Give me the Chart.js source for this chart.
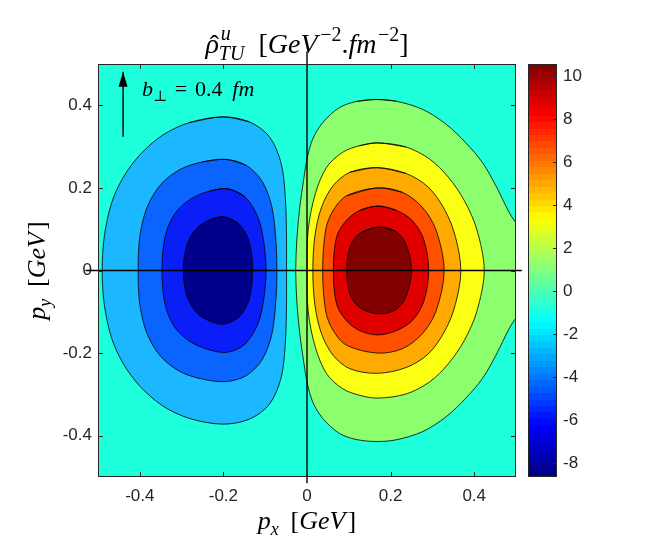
<!DOCTYPE html>
<html>
<head>
<meta charset="utf-8">
<script src="https://cdn.jsdelivr.net/npm/chart.js@4.4.1/dist/chart.umd.min.js"></script>
<style>
  html, body { margin: 0; padding: 0; background: #fff; }
  #wrap { position: relative; width: 656px; height: 547px; }
  #main { position: absolute; left: 0; top: 0; }
  #bar { position: absolute; left: 528px; top: 0; }
</style>
</head>
<body>
<div id="wrap">
  <canvas id="main" width="656" height="547" style="width:656px;height:547px"></canvas>
  <canvas id="bar" width="128" height="547" style="width:128px;height:547px"></canvas>
</div>
<script>
// ---------------------------- data ----------------------------

var xTicks = [-0.4, -0.2, 0, 0.2, 0.4];
var yTicks = [-0.4, -0.2, 0, 0.2, 0.4];
var cbTicks = [-8, -6, -4, -2, 0, 2, 4, 6, 8, 10];
var cbRange = [-8.65, 10.56];

// contour lines, [px, py] in GeV, each one a closed loop
var loopNeg2 = [[-0.202, 0.372], [-0.138, 0.36], [-0.09, 0.324], [-0.062, 0.26], [-0.052, 0.179], [-0.049, 0.082], [-0.049, 0],
  [-0.049, -0.082], [-0.052, -0.179], [-0.062, -0.26], [-0.09, -0.324], [-0.138, -0.36], [-0.202, -0.372], [-0.282, -0.358],
  [-0.345, -0.328], [-0.399, -0.281], [-0.44, -0.225], [-0.468, -0.162], [-0.485, -0.082], [-0.49, 0], [-0.485, 0.082],
  [-0.468, 0.162], [-0.44, 0.225], [-0.399, 0.281], [-0.345, 0.328], [-0.282, 0.358], [-0.202, 0.372]];
var loopNeg4 = [[-0.194, 0.269], [-0.146, 0.255], [-0.108, 0.217], [-0.084, 0.154], [-0.074, 0.066], [-0.072, 0],
  [-0.074, -0.066], [-0.084, -0.154], [-0.108, -0.217], [-0.146, -0.255], [-0.194, -0.269], [-0.25, -0.263], [-0.303, -0.245],
  [-0.35, -0.208], [-0.383, -0.152], [-0.4, -0.082], [-0.404, 0], [-0.4, 0.082], [-0.383, 0.152], [-0.35, 0.208],
  [-0.303, 0.245], [-0.25, 0.263], [-0.194, 0.269]];
var loopNeg6 = [[-0.19, 0.198], [-0.148, 0.178], [-0.117, 0.128], [-0.103, 0.066], [-0.098, 0], [-0.103, -0.066], [-0.117, -0.128],
  [-0.148, -0.178], [-0.19, -0.198], [-0.234, -0.192], [-0.28, -0.172], [-0.318, -0.135], [-0.34, -0.08], [-0.347, 0],
  [-0.34, 0.08], [-0.318, 0.135], [-0.28, 0.172], [-0.234, 0.192], [-0.19, 0.198]];
var loopNeg8 = [[-0.2, 0.13], [-0.163, 0.113], [-0.139, 0.072], [-0.13, 0], [-0.139, -0.072], [-0.163, -0.113], [-0.2, -0.13],
  [-0.232, -0.123], [-0.264, -0.102], [-0.287, -0.063], [-0.296, 0], [-0.287, 0.063], [-0.264, 0.102], [-0.232, 0.123], [-0.2, 0.13]];

var loopPos0 = [[0.165, 0.414], [0.213, 0.41], [0.277, 0.39], [0.333, 0.354], [0.38, 0.309], [0.42, 0.261], [0.452, 0.205],
  [0.484, 0.14], [0.53, 0.06], [0.53, -0.06], [0.484, -0.14], [0.452, -0.205], [0.42, -0.261], [0.38, -0.309],
  [0.333, -0.354], [0.277, -0.39], [0.213, -0.41], [0.165, -0.414], [0.117, -0.409], [0.077, -0.394], [0.0375, -0.358],
  [0.0136, -0.318], [0, -0.27], [-0.008, -0.22], [-0.017, -0.156], [-0.024, -0.08], [-0.027, 0], [-0.024, 0.08],
  [-0.017, 0.156], [-0.008, 0.22], [0, 0.27], [0.0136, 0.318], [0.0375, 0.358], [0.077, 0.394], [0.117, 0.409], [0.165, 0.414]];
var loopPos2 = [[0.169, 0.309], [0.237, 0.299], [0.293, 0.27], [0.338, 0.226], [0.376, 0.17], [0.406, 0.1], [0.424, 0],
  [0.406, -0.1], [0.376, -0.17], [0.338, -0.226], [0.293, -0.27], [0.237, -0.299], [0.169, -0.309], [0.125, -0.302],
  [0.085, -0.286], [0.047, -0.25], [0.02, -0.186], [0.003, -0.1], [0, 0], [0.003, 0.1], [0.02, 0.186], [0.047, 0.25],
  [0.085, 0.286], [0.125, 0.302], [0.169, 0.309]];
var loopPos4 = [[0.168, 0.249], [0.237, 0.235], [0.29, 0.202], [0.33, 0.146], [0.355, 0.082], [0.368, 0], [0.355, -0.082],
  [0.33, -0.146], [0.29, -0.202], [0.237, -0.235], [0.168, -0.249], [0.103, -0.238], [0.063, -0.206], [0.035, -0.154],
  [0.019, -0.084], [0.014, 0], [0.019, 0.084], [0.035, 0.154], [0.063, 0.206], [0.103, 0.238], [0.168, 0.249]];
var loopPos6 = [[0.17, 0.2], [0.229, 0.189], [0.275, 0.154], [0.308, 0.1], [0.328, 0], [0.308, -0.1], [0.275, -0.154],
  [0.229, -0.189], [0.17, -0.2], [0.095, -0.181], [0.063, -0.146], [0.045, -0.1], [0.0375, 0], [0.045, 0.1], [0.063, 0.146],
  [0.095, 0.181], [0.17, 0.2]];
var loopPos8 = [[0.17, 0.156], [0.213, 0.146], [0.251, 0.122], [0.279, 0.076], [0.291, 0], [0.279, -0.076], [0.251, -0.122],
  [0.213, -0.146], [0.17, -0.156], [0.127, -0.146], [0.095, -0.122], [0.071, -0.082], [0.063, 0], [0.071, 0.082],
  [0.095, 0.122], [0.127, 0.146], [0.17, 0.156]];
var loopPos10 = [[0.172, 0.105], [0.212, 0.095], [0.236, 0.066], [0.25, 0], [0.236, -0.066], [0.212, -0.095], [0.172, -0.105],
  [0.128, -0.091], [0.103, -0.058], [0.095, 0], [0.103, 0.058], [0.128, 0.091], [0.172, 0.105]];

// the two black lines through the origin and the b arrow
var lineHoriz = [[-0.53, 0], [0.514, 0]];
var lineVert = [[0, -0.515], [0, 0.53]];
var arrowPts = [[-0.44, 0.324], [-0.44, 0.481]];

// ---------------------------- styles ----------------------------

var bgColor = '#1EFFDC';
var contourList = [
  { pts: loopNeg2, color: '#1CB8FF', order: 4 },
  { pts: loopNeg4, color: '#0A64FF', order: 3 },
  { pts: loopNeg6, color: '#0A1EF8', order: 2 },
  { pts: loopNeg8, color: '#00008C', order: 1 },
  { pts: loopPos0, color: '#8CFF6E', order: 6 },
  { pts: loopPos2, color: '#FAFF14', order: 5 },
  { pts: loopPos4, color: '#FFAA00', order: 4 },
  { pts: loopPos6, color: '#FF5000', order: 3 },
  { pts: loopPos8, color: '#E10000', order: 2 },
  { pts: loopPos10, color: '#820000', order: 1 }
];
var inkColor = '#262626';
var mathFont = '"Liberation Serif", "DejaVu Serif", serif';
Chart.defaults.font.family = '"Liberation Sans", Arial, Helvetica, sans-serif';
Chart.defaults.font.size = 17;
Chart.defaults.color = inkColor;

function toXY(arr) {
  return arr.map(function (p) { return { x: p[0], y: p[1] }; });
}

// a closed loop gets one point of overlap on each end so the spline has no corner where it starts
function loopXY(arr) {
  var n = arr.length;
  return toXY([arr[n - 2]].concat(arr, [arr[1]]));
}

var sets = contourList.map(function (c) {
  return {
    data: loopXY(c.pts),
    fill: 'shape',
    backgroundColor: c.color,
    borderColor: '#000',
    borderWidth: 0.8,
    pointRadius: 0,
    tension: 0.32,
    order: c.order + 1
  };
});
[lineHoriz, lineVert, arrowPts].forEach(function (l) {
  sets.push({ data: toXY(l), fill: false, borderColor: '#000', borderWidth: 1.4, pointRadius: 0, tension: 0, clip: false, order: 0 });
});

// ---------------------------- math text ----------------------------

function runText(c, run, F, x, y, draw) {
  run.forEach(function (p) {
    if (p.gap) { x += p.gap * F; return; }
    if (p.top !== undefined) {
      c.font = 'italic ' + Math.round(F * 0.7) + 'px ' + mathFont;
      var w1 = c.measureText(p.top).width, w2 = c.measureText(p.bot).width;
      if (draw) {
        c.fillText(p.top, x + 2, y - 0.45 * F);
        c.fillText(p.bot, x, y + 0.25 * F);
      }
      x += Math.max(w1 + 2, w2);
      return;
    }
    var small = p.sup || p.sub;
    c.font = (p.i ? 'italic ' : '') + Math.round(F * (small ? 0.7 : 1)) + 'px ' + mathFont;
    var w = c.measureText(p.t).width;
    var dy = p.sup ? -0.42 * F : (p.sub ? 0.22 * F : 0);
    if (draw) {
      c.fillText(p.t, x, y + dy);
      if (p.hat) {
        c.font = Math.round(F) + 'px ' + mathFont;
        c.textAlign = 'center';
        c.fillText('\u02C6', x + w / 2 + 0.08 * F, y + 0.02 * F);
        c.textAlign = 'left';
      }
    }
    x += w;
  });
  return x;
}

function centerText(c, run, F, cx, y) {
  var w = runText(c, run, F, 0, 0, false);
  runText(c, run, F, cx - w / 2, y, true);
}

var titleRun = [{ t: '\u03C1', i: 1, hat: 1 }, { top: 'u', bot: 'TU' }, { gap: 0.5 }, { t: '[' }, { t: 'GeV', i: 1 },
  { gap: 0.1 }, { t: '\u22122', sup: 1 }, { t: '.' }, { t: 'fm', i: 1 }, { gap: 0.05 }, { t: '\u22122', sup: 1 }, { t: ']' }];
var xLabelRun = [{ t: 'p', i: 1 }, { t: 'x', i: 1, sub: 1 }, { gap: 0.45 }, { t: '[' }, { t: 'GeV', i: 1 }, { gap: 0.08 }, { t: ']' }];
var yLabelRun = [{ t: 'p', i: 1 }, { t: 'y', i: 1, sub: 1 }, { gap: 0.45 }, { t: '[' }, { t: 'GeV', i: 1 }, { gap: 0.08 }, { t: ']' }];
var bRun = [{ t: 'b', i: 1 }, { t: '\u22A5', sub: 1 }, { gap: 0.35 }, { t: '=' }, { gap: 0.35 }, { t: '0.4' }, { gap: 0.45 }, { t: 'fm', i: 1 }];

// ---------------------------- main plot ----------------------------

var framePlugin = {
  id: 'frame',
  beforeDatasetsDraw: function (chart) {
    var a = chart.chartArea, c = chart.ctx;
    c.save();
    c.fillStyle = bgColor;
    c.fillRect(a.left, a.top, a.right - a.left, a.bottom - a.top);
    c.restore();
  },
  afterDatasetsDraw: function (chart) {
    var c = chart.ctx, xs = chart.scales.x, ys = chart.scales.y;
    var ax = xs.getPixelForValue(arrowPts[1][0]), ay = ys.getPixelForValue(arrowPts[1][1]);
    c.save();
    c.fillStyle = '#000';
    c.beginPath();
    c.moveTo(ax, ay);
    c.lineTo(ax + 4.5, ay + 15);
    c.lineTo(ax - 4.5, ay + 15);
    c.closePath();
    c.fill();
    c.restore();
  },
  afterDraw: function (chart) {
    var a = chart.chartArea, c = chart.ctx, xs = chart.scales.x, ys = chart.scales.y;
    c.save();
    c.strokeStyle = inkColor;
    c.lineWidth = 1;
    c.strokeRect(a.left + 0.5, a.top + 0.5, a.right - a.left - 1, a.bottom - a.top - 1);
    c.beginPath();
    xTicks.forEach(function (v) {
      var px = Math.round(xs.getPixelForValue(v)) + 0.5;
      c.moveTo(px, a.bottom); c.lineTo(px, a.bottom - 5);
      c.moveTo(px, a.top); c.lineTo(px, a.top + 5);
    });
    yTicks.forEach(function (v) {
      var py = Math.round(ys.getPixelForValue(v)) + 0.5;
      c.moveTo(a.left, py); c.lineTo(a.left + 5, py);
      c.moveTo(a.right, py); c.lineTo(a.right - 5, py);
    });
    c.stroke();

    c.fillStyle = '#000';
    c.textBaseline = 'alphabetic';
    c.textAlign = 'left';
    centerText(c, titleRun, 28, (a.left + a.right) / 2, 53);
    centerText(c, xLabelRun, 26, (a.left + a.right) / 2, 529);
    c.save();
    c.translate(45, (a.top + a.bottom) / 2);
    c.rotate(-Math.PI / 2);
    centerText(c, yLabelRun, 26, 0, 0);
    c.restore();
    runText(c, bRun, 22, 142, 96, true);
    c.restore();
  }
};

new Chart('main', {
  type: 'line',
  data: { datasets: sets },
  options: {
    responsive: false,
    animation: false,
    events: [],
    layout: { padding: { left: 0, top: 64, right: 140, bottom: 30 } },
    plugins: { legend: { display: false }, tooltip: { enabled: false } },
    scales: {
      x: {
        type: 'linear',
        min: -0.5, max: 0.5,
        grid: { display: false, drawTicks: false },
        border: { display: false },
        ticks: { padding: 9, autoSkip: false, maxRotation: 0, callback: function (v) { return String(v); } },
        afterBuildTicks: function (s) { s.ticks = xTicks.map(function (v) { return { value: v }; }); },
        afterFit: function (s) { s.height = 40; }
      },
      y: {
        type: 'linear',
        min: -0.5, max: 0.5,
        grid: { display: false, drawTicks: false },
        border: { display: false },
        ticks: { padding: 6, autoSkip: false, callback: function (v) { return String(v); } },
        afterBuildTicks: function (s) { s.ticks = yTicks.map(function (v) { return { value: v }; }); },
        afterFit: function (s) { s.width = 98; }
      }
    }
  },
  plugins: [framePlugin]
});

// ---------------------------- colour bar ----------------------------

function jet(t) {
  function cl(v) { return Math.max(0, Math.min(1, v)); }
  var r = cl(Math.min(4 * t - 1.5, -4 * t + 4.5));
  var g = cl(Math.min(4 * t - 0.5, -4 * t + 3.5));
  var b = cl(Math.min(4 * t + 0.5, -4 * t + 2.5));
  return 'rgb(' + Math.round(r * 255) + ',' + Math.round(g * 255) + ',' + Math.round(b * 255) + ')';
}

var jetCache = null;
function jetFill(ctx) {
  var chart = ctx.chart, a = chart.chartArea;
  if (!a) return null;
  if (jetCache && jetCache.key === a.top + ':' + a.bottom) return jetCache.grad;
  var g = chart.ctx.createLinearGradient(0, a.bottom, 0, a.top);
  var n = 64;
  for (var i = 0; i < n; i++) {
    var col = jet((i + 0.5) / n);
    g.addColorStop(i / n, col);
    g.addColorStop((i + 1) / n, col);
  }
  jetCache = { key: a.top + ':' + a.bottom, grad: g };
  return g;
}

var barFrame = {
  id: 'barFrame',
  afterDraw: function (chart) {
    var a = chart.chartArea, c = chart.ctx, ys = chart.scales.y;
    c.save();
    c.strokeStyle = inkColor;
    c.lineWidth = 1;
    c.strokeRect(a.left + 0.5, a.top + 0.5, a.right - a.left - 1, a.bottom - a.top - 1);
    c.beginPath();
    cbTicks.forEach(function (v) {
      var py = Math.round(ys.getPixelForValue(v)) + 0.5;
      c.moveTo(a.right, py); c.lineTo(a.right - 4, py);
    });
    c.stroke();
    c.restore();
  }
};

new Chart('bar', {
  type: 'bar',
  data: {
    labels: [''],
    datasets: [{ data: [cbRange], backgroundColor: jetFill, borderWidth: 0, barPercentage: 1, categoryPercentage: 1 }]
  },
  options: {
    responsive: false,
    animation: false,
    events: [],
    layout: { padding: { left: 0, top: 64, right: 0, bottom: 70 } },
    plugins: { legend: { display: false }, tooltip: { enabled: false } },
    scales: {
      x: { display: false },
      y: {
        position: 'right',
        min: cbRange[0], max: cbRange[1],
        grid: { display: false, drawTicks: false },
        border: { display: false },
        ticks: { padding: 6, autoSkip: false, callback: function (v) { return String(v); } },
        afterBuildTicks: function (s) { s.ticks = cbTicks.map(function (v) { return { value: v }; }); },
        afterFit: function (s) { s.width = 99; }
      }
    }
  },
  plugins: [barFrame]
});
</script>
</body>
</html>
